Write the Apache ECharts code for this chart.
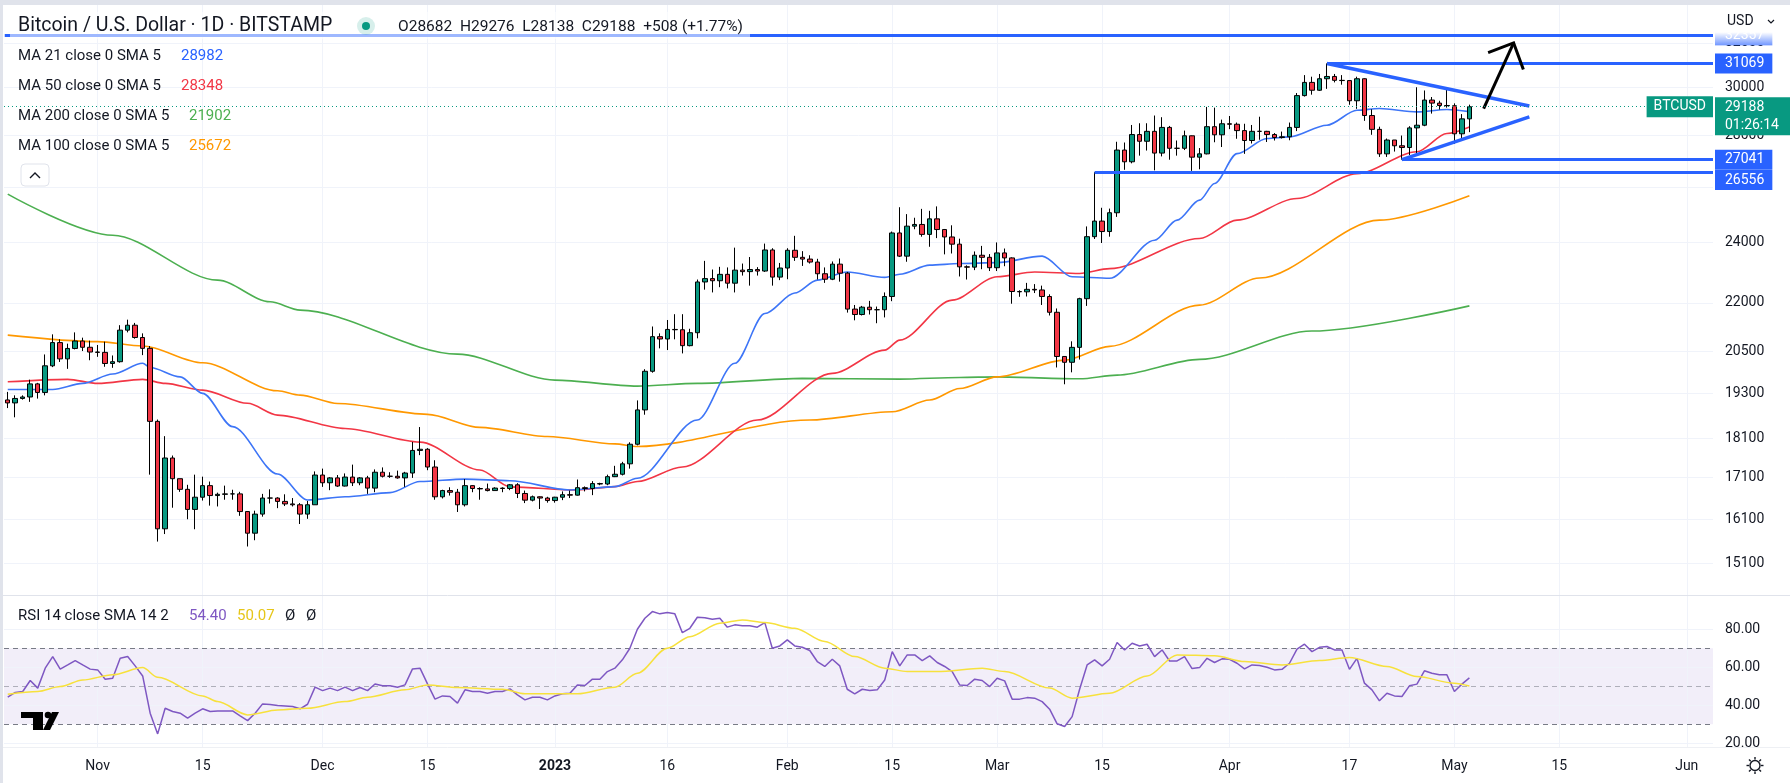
<!DOCTYPE html>
<html>
<head>
<meta charset="utf-8">
<title>Bitcoin / U.S. Dollar · 1D · BITSTAMP</title>
<script src="https://cdn.jsdelivr.net/npm/echarts@6.0.0/dist/echarts.min.js"></script>
<style>
  html, body { margin: 0; padding: 0; background: #ffffff; }
  #chart { width: 1790px; height: 783px; }
</style>
</head>
<body>
<div id="chart"></div>
<script>
// daily bars from 2022-10-20 to 2023-05-03: [open, high, low, close]
const bars = [
  [19123,19346,18900,19041],[19041,19250,18650,19164],[19164,19250,19132,19205],[19205,19690,19070,19571],[19571,19600,19160,19331],
  [19331,20420,19250,20088],[20088,21020,20050,20772],[20772,20870,20200,20290],[20290,20740,20000,20597],[20597,21080,20570,20819],
  [20819,20920,20520,20632],[20632,20830,20250,20491],[20491,20700,20350,20481],[20481,20800,20060,20155],[20155,20390,20030,20207],
  [20207,21300,20180,21148],[21148,21470,21080,21299],[21299,21370,20890,20925],[20925,21050,20400,20600],[20600,20670,17170,18541],
  [18541,18590,15590,15880],[15880,18150,15760,17587],[17587,17650,16370,17070],[17070,17070,16750,16810],[16810,16920,16100,16330],
  [16330,17170,15870,16620],[16620,17120,16540,16900],[16900,17000,16420,16660],[16660,16730,16400,16690],[16690,16900,16560,16700],
  [16700,16800,16560,16700],[16700,16750,16180,16280],[16280,16290,15480,15780],[15780,16300,15620,16220],[16220,16700,16160,16600],
  [16600,16810,16470,16600],[16600,16620,16360,16520],[16520,16690,16410,16460],[16460,16600,16400,16440],[16440,16480,15990,16220],
  [16220,16530,16110,16440],[16440,17250,16440,17160],[17160,17320,16870,16970],[16970,17110,16790,17090],[17090,17160,16870,16890],
  [16890,17200,16880,17110],[17110,17420,16890,16970],[16970,17110,16910,17090],[17090,17140,16700,16840],[16840,17300,16740,17230],
  [17230,17350,17100,17130],[17130,17230,17090,17130],[17130,17270,17070,17090],[17090,17240,16870,17210],[17210,18000,17090,17780],
  [17780,18390,17660,17810],[17810,17840,17280,17360],[17360,17530,16560,16630],[16630,16800,16590,16780],[16780,16860,16660,16740],
  [16740,16820,16270,16440],[16440,17060,16400,16900],[16900,16910,16740,16830],[16830,16860,16560,16820],[16820,16950,16760,16780],
  [16780,16860,16780,16840],[16840,16860,16740,16830],[16830,16940,16790,16920],[16920,16960,16600,16710],[16710,16780,16480,16550],
  [16550,16660,16520,16630],[16630,16640,16340,16600],[16600,16630,16490,16540],[16540,16630,16490,16620],[16620,16760,16550,16680],
  [16680,16780,16600,16670],[16670,17050,16660,16850],[16850,16880,16760,16830],[16830,17010,16670,16950],[16950,16970,16910,16940],
  [16940,17170,16910,17120],[17120,17390,17110,17180],[17180,17490,17150,17440],[17440,17990,17320,17940],[17940,19110,17910,18850],
  [18850,19990,18720,19930],[19930,21260,19890,20950],[20950,21050,20600,20880],[20880,21460,20550,21170],[21170,21640,20870,21160],
  [21160,21640,20450,20680],[20680,21190,20660,21070],[21070,22750,20900,22670],[22670,23370,22420,22780],[22780,23080,22330,22710],
  [22710,23170,22500,22920],[22920,23150,22460,22630],[22630,23820,22330,23060],[23060,23280,22880,23010],[23010,23500,22550,23080],
  [23080,23160,22880,23030],[23030,23960,23000,23740],[23740,23800,22550,22830],[22830,23300,22730,23130],[23130,23800,22760,23730],
  [23730,24230,23370,23490],[23490,23700,23200,23430],[23430,23560,23280,23330],[23330,23440,22750,22940],[22940,23150,22640,22760],
  [22760,23350,22730,23260],[23260,23450,22680,22960],[22960,23000,21690,21800],[21800,21930,21450,21630],[21630,21900,21600,21860],
  [21860,22060,21630,21780],[21780,21880,21360,21780],[21780,22330,21540,22200],[22200,24380,22050,24330],[24330,25250,23500,23530],
  [23530,25000,23340,24570],[24570,24870,24460,24630],[24630,25190,24200,24280],[24280,25120,23850,24830],[24830,25280,24150,24450],
  [24450,24470,23590,24190],[24190,24600,23620,23940],[23940,24130,22850,23170],[23170,23220,22750,23160],[23160,23690,23060,23560],
  [23560,23880,23090,23490],[23490,23600,23030,23140],[23140,24000,23030,23640],[23640,23790,23190,23470],[23470,23490,21970,22360],
  [22360,22400,22190,22350],[22350,22640,22200,22430],[22430,22600,22310,22410],[22410,22550,21930,22200],[22200,22270,21600,21700],
  [21700,21820,20040,20360],[20360,20360,19560,20190],[20190,20810,19900,20630],[20630,22160,20270,22130],[22130,24560,21900,24200],
  [24200,26556,24120,24750],[24750,25230,23980,24380],[24380,25200,24200,25050],[25050,27750,24900,27420],[27420,27720,26650,26960],
  [26960,28430,26900,28040],[28040,28500,27200,27770],[27770,28500,27400,28170],[28170,28820,26630,27300],[27300,28750,27170,28330],
  [28330,28390,27040,27490],[27490,27800,27200,27490],[27490,28200,27420,27990],[27990,28000,26610,27140],[27140,27500,26670,27270],
  [27270,29180,27250,28360],[28360,29150,27730,28030],[28030,28650,27540,28480],[28480,28800,28260,28460],[28460,28530,27870,28200],
  [28200,28480,27270,27800],[27800,28430,27680,28170],[28170,28770,27830,28170],[28170,28190,27740,28040],[28040,28100,27800,27920],
  [27920,28160,27880,27950],[27950,28530,27810,28330],[28330,29770,28180,29660],[29660,30550,29620,30230],[30230,30480,29700,29890],
  [29890,30600,29860,30390],[30390,31069,29950,30490],[30490,30600,30230,30320],[30320,30550,30130,30310],[30310,30310,29270,29440],
  [29440,30480,29100,30390],[30390,30410,28600,28820],[28820,29080,28030,28250],[28250,28360,27150,27270],[27270,27880,27150,27820],
  [27820,27820,27360,27590],[27590,28000,27041,27520],[27520,28380,27220,28310],[28310,30020,27240,28420],[28420,29880,28380,29470],
  [29470,29600,28900,29340],[29340,29440,29070,29240],[29240,29960,29150,29230],[29230,29330,27670,28070],[28070,28880,27870,28682],
  [28682,29276,28138,29188]
];

// moving averages: [bar index, price]
const ma21 = [[0,19415],[6,19415],[10,19585],[14,19850],[18,20160],[19,20040],[23,19770],[26,19306],[30,18400],[36,17185],[40,16553],[45,16630],[51,16730],[55,17000],[61,17060],[67,17020],[75,16794],[81,16875],[84,17080],[92,18576],[97,20160],[101,21660],[105,22310],[108,22730],[112,23000],[117,22820],[119,22925],[123,23227],[127,23280],[132,23310],[138,23530],[142,22840],[147,22790],[153,24078],[156,24784],[159,25508],[161,26130],[164,27280],[168,27880],[171,27946],[176,28420],[180,29040],[183,29113],[188,28970],[192,29070],[195,28982]];
const ma50 = [[0,19630],[8,19700],[12,19585],[18,19700],[21,19585],[26,19396],[32,19030],[36,18710],[45,18350],[55,17995],[63,17285],[67,16870],[76,16794],[81,16875],[84,17000],[90,17360],[100,18576],[110,19870],[117,20548],[119,20847],[126,22084],[132,22840],[137,23000],[143,22950],[147,23110],[159,24135],[164,24784],[172,25570],[180,26500],[188,27350],[192,28080],[195,28348]];
const ma100 = [[0,20997],[12,20800],[18,20670],[26,20175],[36,19377],[39,19257],[44,19026],[56,18730],[63,18380],[72,18140],[81,17950],[84,17880],[107,18576],[118,18800],[123,19120],[127,19440],[132,19770],[141,20254],[147,20660],[159,21925],[167,22800],[183,24784],[195,25672]];
const ma200 = [[0,25730],[14,24250],[28,22730],[35,22030],[39,21768],[60,20430],[73,19678],[84,19508],[92,19585],[106,19728],[119,19706],[127,19754],[132,19770],[143,19715],[148,19820],[159,20275],[174,21120],[195,21902]];

// RSI 14, one value per bar
const rsi = [
  44.2,46.7,47.2,53.0,49.0,59.5,65.6,59.0,61.2,63.5,
  61.2,59.0,58.6,53.7,54.2,64.7,65.6,60.7,55.4,35.8,
  24.9,38.4,36.7,35.8,33.2,35.8,38.1,36.7,37.0,37.0,
  37.0,34.4,31.9,35.8,40.7,40.4,39.8,39.6,39.3,38.1,
  40.5,49.5,47.7,49.0,47.7,49.5,47.7,49.3,47.7,51.2,
  50.2,50.2,49.5,50.7,59.1,59.5,51.2,43.2,44.9,44.6,
  41.1,48.1,47.2,47.2,46.3,47.2,47.2,48.6,45.4,42.8,
  44.2,44.2,42.8,44.9,46.0,46.3,50.7,50.4,53.7,53.7,
  57.7,59.5,63.9,70.0,80.0,85.8,89.3,88.1,88.8,88.1,
  78.2,80.5,86.3,86.1,85.3,85.8,81.1,82.3,81.9,81.8,
  81.1,83.5,70.0,71.2,74.4,71.2,70.5,68.8,63.0,60.4,
  64.2,60.7,48.4,46.0,48.4,47.7,48.1,53.3,68.2,60.7,
  66.5,66.5,63.5,66.0,62.5,60.4,57.7,50.7,50.4,53.7,
  53.0,49.8,54.2,52.8,43.2,43.2,44.0,43.7,41.9,37.9,
  30.2,28.8,34.0,48.4,61.2,63.9,60.7,64.2,73.0,69.1,
  72.6,71.2,72.1,65.6,69.1,63.3,63.3,65.6,59.3,59.8,
  64.7,62.5,64.4,64.2,62.1,59.1,61.2,60.9,60.0,58.6,
  58.9,62.1,69.5,72.1,68.2,70.5,70.9,69.1,69.1,58.9,
  64.7,51.6,48.1,42.3,46.3,44.9,44.6,50.2,51.1,58.1,
  56.8,56.0,56.0,47.2,51.1,54.4
];
// RSI smoothing line: [bar index, value]
const rsiSma = [[0,45.8],[4,47.2],[7,49.8],[10,53.3],[14,56],[18,59.8],[20,54.7],[26,44.9],[28,41.9],[32,34.9],[36,37.5],[40,38.4],[45,41.9],[48,44.2],[53,48.1],[56,50.7],[60,49.3],[66,48.4],[69,46],[76,46],[81,49.5],[84,56.8],[88,70],[91,76.1],[95,83.2],[98,84.9],[101,83.5],[105,80.5],[109,73.5],[113,65.6],[117,59.5],[120,57.7],[124,57.7],[130,59.5],[133,57.7],[139,49],[142,43.7],[147,46.3],[152,55.4],[156,66.5],[161,66],[165,63],[170,61.2],[175,63.5],[179,65.1],[184,60.4],[188,55.1],[193,51.6],[195,50.07]];

// axis ticks
const priceTicks = [32000, 30000, 28000, 26000, 24000, 22000, 20500, 19300, 18100, 17100, 16100, 15100];
const rsiTicks = [20, 40, 60, 80];
const tickDates = ['2022-11-01','2022-11-15','2022-12-01','2022-12-15','2023-01-01','2023-01-16','2023-02-01','2023-02-15','2023-03-01','2023-03-15','2023-04-01','2023-04-17','2023-05-01','2023-05-15','2023-06-01'];
const tickLabels = ['Nov','15','Dec','15','2023','16','Feb','15','Mar','15','Apr','17','May','15','Jun'];

// drawings on the chart: [bar index, price]
const levelTop = [[-0.4, 32357], [227.5, 32357]];
const level31069 = [[176, 31069], [227.5, 31069]];
const level27041 = [[186, 27041], [227.5, 27041]];
const level26556 = [[145, 26556], [227.5, 26556]];
const triUpper = [[176, 31069], [203, 29222]];
const triLower = [[186, 27041], [203, 28766]];
const arrowShaft = [[196.9, 29113], [200.9, 32000]];
const arrowHead = [[197.5, 31560], [200.9, 32000], [202.2, 30793]];
const lastPrice = 29188;

const N = 228; // bars on the time scale, up to early June
const dates = [];
for (let i = 0; i < N; i++) {
  dates.push(new Date(Date.UTC(2022, 9, 20 + i)).toISOString().slice(0, 10));
}
const tickIdx = tickDates.map(d => dates.indexOf(d));

const FONT = "Roboto, 'Noto Sans', sans-serif";
const TXT = '#131722';
const BLUE = '#2962ff';
const GREEN = '#089981';
const HIDDEN = { color: 'rgba(0,0,0,0)', width: 0 };

const chart = echarts.init(document.getElementById('chart'));

function boxLabel(text, bg, extra) {
  return Object.assign({
    show: true, position: 'end', distance: 2, formatter: text,
    backgroundColor: bg, color: '#fff', fontSize: 14, fontFamily: FONT,
    padding: [3, 8, 2, 10], lineHeight: 15
  }, extra || {});
}

function levelSeries(pts, text, withLabel) {
  return {
    type: 'line', xAxisIndex: 2, yAxisIndex: 0, data: [], silent: true,
    markLine: {
      silent: true, symbol: 'none', z: 5, animation: false,
      lineStyle: { color: BLUE, width: 3, type: 'solid' },
      label: withLabel ? boxLabel(text, BLUE) : { show: false },
      data: [[{ coord: pts[0] }, { coord: pts[1] }]]
    }
  };
}

function maLine(pts, color) {
  return {
    type: 'line', xAxisIndex: 2, yAxisIndex: 0, data: pts, showSymbol: false, silent: true,
    smooth: 0.3, smoothMonotone: 'x', z: 3,
    lineStyle: { color: color, width: 1.6 }
  };
}

const series = [
  // price pane grid + tick labels
  {
    type: 'line', xAxisIndex: 2, yAxisIndex: 0, data: [], silent: true,
    markLine: {
      silent: true, symbol: 'none', z: 1, animation: false,
      lineStyle: { color: '#f0f3fa', width: 1, type: 'solid' },
      label: { position: 'end', distance: 12, color: TXT, fontSize: 14, fontFamily: FONT },
      data: priceTicks.map(v => ({ yAxis: v, label: { formatter: String(v) } }))
        .concat(tickIdx.map(i => ({ xAxis: i, label: { show: false } })))
    }
  },
  {
    type: 'candlestick', xAxisIndex: 0, yAxisIndex: 0, z: 4, barWidth: 5, silent: true,
    data: bars.map(b => [b[0], b[3], b[2], b[1]]),
    itemStyle: {
      color: GREEN, color0: '#f23645', borderColor: '#000', borderColor0: '#000',
      borderColorDoji: '#000', borderWidth: 1
    }
  },
  maLine(ma200, '#4caf50'),
  maLine(ma100, '#ff9800'),
  maLine(ma50, '#f23645'),
  maLine(ma21, '#3d75f7'),
  levelSeries(levelTop, '32357', true),
  levelSeries(level31069, '31069', true),
  levelSeries(level27041, '27041', true),
  levelSeries(level26556, '26556', false),
  // 26556 tag sits just below its line, pushed down by the 27041 tag
  {
    type: 'line', xAxisIndex: 2, yAxisIndex: 0, data: [], silent: true,
    markLine: {
      silent: true, symbol: 'none', z: 5, animation: false,
      lineStyle: HIDDEN,
      label: boxLabel('26556', BLUE),
      data: [{ yAxis: 26260 }]
    }
  },
  {
    type: 'line', xAxisIndex: 2, yAxisIndex: 0, data: triUpper, showSymbol: false, silent: true, z: 5,
    lineStyle: { color: BLUE, width: 3.5 }
  },
  {
    type: 'line', xAxisIndex: 2, yAxisIndex: 0, data: triLower, showSymbol: false, silent: true, z: 5,
    lineStyle: { color: BLUE, width: 3.5 }
  },
  {
    type: 'line', xAxisIndex: 2, yAxisIndex: 0, data: arrowShaft, showSymbol: false, silent: true, z: 5,
    lineStyle: { color: '#000', width: 3 }
  },
  {
    type: 'line', xAxisIndex: 2, yAxisIndex: 0, data: arrowHead, showSymbol: false, silent: true, z: 5,
    lineStyle: { color: '#000', width: 3, join: 'miter' }
  },
  // last price line with its tags
  {
    type: 'line', xAxisIndex: 2, yAxisIndex: 0, data: [], silent: true,
    markLine: {
      silent: true, symbol: 'none', z: 6, animation: false,
      data: [
        {
          yAxis: lastPrice,
          lineStyle: { color: GREEN, type: [1, 3], width: 1 },
          label: {
            show: true, position: 'insideEnd', distance: 0, formatter: 'BTCUSD',
            backgroundColor: GREEN, color: '#fff', fontSize: 14, fontFamily: FONT,
            padding: [3, 7, 3, 7], lineHeight: 15
          }
        },
        {
          yAxis: 28790,
          lineStyle: HIDDEN,
          label: boxLabel('{a|' + lastPrice + '}\n{a|01:26:14}', GREEN, {
            padding: [1, 14, 1, 10],
            rich: { a: { color: '#fff', fontSize: 14, fontFamily: FONT, lineHeight: 18 } }
          })
        }
      ]
    }
  },
  // RSI pane: band, grid, guide lines
  {
    type: 'line', xAxisIndex: 3, yAxisIndex: 1, data: [], silent: true,
    markArea: {
      silent: true, z: 0, animation: false,
      itemStyle: { color: 'rgba(126,87,194,0.1)' },
      data: [[{ yAxis: 30 }, { yAxis: 70 }]]
    },
    markLine: {
      silent: true, symbol: 'none', z: 1, animation: false,
      lineStyle: { color: '#f0f3fa', width: 1, type: 'solid' },
      label: { position: 'end', distance: 12, color: TXT, fontSize: 14, fontFamily: FONT },
      data: rsiTicks.map(v => ({ yAxis: v, label: { formatter: v.toFixed(2) } }))
        .concat(tickIdx.map(i => ({ xAxis: i, label: { show: false } })))
        .concat([70, 30].map(v => ({ yAxis: v, label: { show: false }, lineStyle: { color: '#787b86', type: [5, 4] } })))
        .concat([{ yAxis: 50, label: { show: false }, lineStyle: { color: 'rgba(120,123,134,0.55)', type: [5, 4] } }])
    }
  },
  {
    type: 'line', xAxisIndex: 1, yAxisIndex: 1, data: rsi, showSymbol: false, silent: true, z: 3,
    lineStyle: { color: '#7e57c2', width: 1.5 }
  },
  {
    type: 'line', xAxisIndex: 3, yAxisIndex: 1, data: rsiSma, showSymbol: false, silent: true, z: 3,
    smooth: 0.3, smoothMonotone: 'x',
    lineStyle: { color: '#f7e13c', width: 1.5 }
  }
];

// static overlays: legend texts, frame, icons
const graphic = [];
function txt(x, y, text, color, size, weight) {
  graphic.push({
    type: 'text', x: x, y: y, z: 120, silent: true,
    style: { text: text, fill: color, fontSize: size, fontFamily: FONT, fontWeight: weight || 'normal', verticalAlign: 'middle' }
  });
}
graphic.push({ type: 'rect', z: 110, silent: true, shape: { x: 10, y: 12, width: 740, height: 27 }, style: { fill: 'rgba(255,255,255,0.55)' } });
txt(18, 26, 'Bitcoin / U.S. Dollar · 1D · BITSTAMP', TXT, 19.5);
graphic.push({ type: 'circle', z: 120, silent: true, shape: { cx: 366, cy: 26, r: 9 }, style: { fill: 'rgba(8,153,129,0.16)' } });
graphic.push({ type: 'circle', z: 121, silent: true, shape: { cx: 366, cy: 26, r: 4 }, style: { fill: GREEN } });
txt(398, 27, 'O28682  H29276  L28138  C29188  +508 (+1.77%)', TXT, 15.5);
txt(18, 56, 'MA 21 close 0 SMA 5', TXT, 15); txt(181, 56, '28982', '#2962ff', 15);
txt(18, 86, 'MA 50 close 0 SMA 5', TXT, 15); txt(181, 86, '28348', '#f23645', 15);
txt(18, 116, 'MA 200 close 0 SMA 5', TXT, 15); txt(189, 116, '21902', '#4caf50', 15);
txt(18, 146, 'MA 100 close 0 SMA 5', TXT, 15); txt(189, 146, '25672', '#ff9800', 15);
graphic.push({ type: 'rect', z: 120, silent: true, shape: { x: 21, y: 164, width: 28, height: 22, r: 4 }, style: { fill: '#fff', stroke: '#e0e3eb', lineWidth: 1 } });
graphic.push({ type: 'polyline', z: 121, silent: true, shape: { points: [[30, 178], [35, 173], [40, 178]] }, style: { stroke: TXT, lineWidth: 1.4, fill: null } });
txt(18, 616, 'RSI 14 close SMA 14 2', TXT, 15);
txt(189, 616, '54.40', '#7e57c2', 15);
txt(237, 616, '50.07', '#e6c619', 15);
txt(285, 616, 'Ø', TXT, 15);
txt(306, 616, 'Ø', TXT, 15);
// TradingView logo
graphic.push({ type: 'polygon', z: 120, silent: true, shape: { points: [[21, 712], [43, 712], [43, 730], [33, 730], [33, 718], [21, 718]] }, style: { fill: '#000' } });
graphic.push({ type: 'circle', z: 120, silent: true, shape: { cx: 48, cy: 715, r: 3.3 }, style: { fill: '#000' } });
graphic.push({ type: 'polygon', z: 120, silent: true, shape: { points: [[52, 712], [59, 712], [50, 730], [43, 730]] }, style: { fill: '#000' } });
// price scale header
graphic.push({
  type: 'rect', z: 115, silent: true, shape: { x: 1713, y: 5, width: 77, height: 40 },
  style: { fill: new echarts.graphic.LinearGradient(0, 0, 0, 1, [
    { offset: 0, color: 'rgba(255,255,255,1)' },
    { offset: 0.68, color: 'rgba(255,255,255,1)' },
    { offset: 1, color: 'rgba(255,255,255,0.35)' }
  ]) }
});
txt(1727, 21, 'USD', TXT, 14);
graphic.push({ type: 'polyline', z: 121, silent: true, shape: { points: [[1768, 20], [1771, 23], [1774, 20]] }, style: { stroke: TXT, lineWidth: 1.2, fill: null } });
// pane separators and frame
graphic.push({ type: 'line', z: 118, silent: true, shape: { x1: 0, y1: 595.5, x2: 1790, y2: 595.5 }, style: { stroke: '#e0e3eb', lineWidth: 1 } });
graphic.push({ type: 'rect', z: 117, silent: true, shape: { x: 1713, y: 748, width: 77, height: 35 }, style: { fill: '#fff' } });
graphic.push({ type: 'line', z: 118, silent: true, shape: { x1: 0, y1: 747.5, x2: 1790, y2: 747.5 }, style: { stroke: '#eef0f4', lineWidth: 1 } });
graphic.push({ type: 'rect', z: 125, silent: true, shape: { x: 0, y: 0, width: 1790, height: 5 }, style: { fill: '#e0e3eb' } });
graphic.push({ type: 'rect', z: 125, silent: true, shape: { x: 0, y: 0, width: 3, height: 783 }, style: { fill: '#e0e3eb' } });
// settings icon
graphic.push({ type: 'circle', z: 120, silent: true, shape: { cx: 1755, cy: 765.5, r: 5 }, style: { fill: null, stroke: TXT, lineWidth: 1.4 } });
for (let k = 0; k < 8; k++) {
  const a = k * Math.PI / 4;
  graphic.push({
    type: 'line', z: 120, silent: true,
    shape: { x1: 1755 + Math.cos(a) * 6, y1: 765.5 + Math.sin(a) * 6, x2: 1755 + Math.cos(a) * 8.5, y2: 765.5 + Math.sin(a) * 8.5 },
    style: { stroke: TXT, lineWidth: 1.4 }
  });
}

const option = {
  animation: false,
  backgroundColor: '#ffffff',
  textStyle: { fontFamily: FONT },
  grid: [
    { left: 4, right: 77, top: 5, height: 590 },
    { left: 4, right: 77, top: 596, height: 151 }
  ],
  xAxis: [
    { type: 'category', gridIndex: 0, data: dates, show: false },
    {
      type: 'category', gridIndex: 1, data: dates,
      axisLine: { show: false }, axisTick: { show: false }, splitLine: { show: false },
      axisLabel: {
        interval: (i, v) => tickDates.indexOf(v) >= 0,
        margin: 12, color: TXT, fontSize: 14, fontFamily: FONT,
        formatter: v => {
          const t = tickLabels[tickDates.indexOf(v)];
          return t === '2023' ? '{b|2023}' : t;
        },
        rich: { b: { fontWeight: 'bold', fontSize: 14, color: TXT, fontFamily: FONT } }
      }
    },
    { type: 'value', gridIndex: 0, min: -0.5, max: N - 0.5, show: false },
    { type: 'value', gridIndex: 1, min: -0.5, max: N - 0.5, show: false }
  ],
  yAxis: [
    { type: 'log', gridIndex: 0, min: 14434, max: 33800, show: false },
    { type: 'value', gridIndex: 1, min: 18, max: 97.5, show: false }
  ],
  series: series,
  graphic: graphic
};

chart.setOption(option);
</script>
</body>
</html>
